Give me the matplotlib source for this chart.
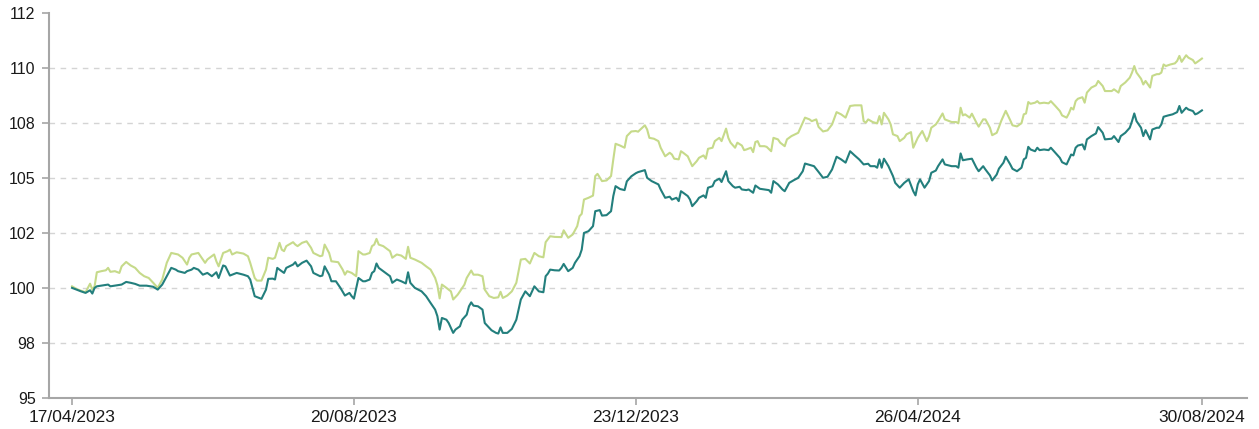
import matplotlib
matplotlib.use("Agg")
import matplotlib.pyplot as plt
import pandas as pd

start_date = "2023-04-17"

teal_days = [0, 2, 4, 6, 8, 9, 10, 11, 13, 16, 17, 19, 22, 24, 26, 28, 30, 33, 36, 38,
             40, 42, 44, 46, 47, 50, 51, 53, 54, 56, 58, 60, 62, 64, 65, 67, 68, 70, 71, 73,
             76, 78, 79, 81, 83, 84, 86, 87, 89, 90, 91, 92, 94, 95, 98, 99, 100, 102, 104, 106,
             107, 110, 111, 112, 114, 115, 117, 119, 121, 123, 124, 125, 127, 129, 130, 132, 133, 134, 135, 136,
             138, 141, 142, 144, 146, 148, 149, 150, 152, 155, 157, 159, 161, 162, 163, 164, 166, 167, 169, 170,
             172, 173, 175, 176, 177, 178, 180, 182, 183, 186, 188, 189, 190, 191, 193, 195, 197, 199, 201, 203,
             205, 207, 209, 210, 211, 212, 214, 216, 217, 218, 220, 222, 223, 225, 226, 227, 229, 231, 232, 234,
             235, 237, 239, 240, 241, 243, 245, 246, 248, 250, 251, 254, 255, 257, 260, 261, 263, 265, 266, 268,
             269, 270, 271, 273, 274, 275, 277, 278, 280, 281, 282, 284, 285, 287, 288, 290, 291, 293, 294, 296,
             297, 299, 300, 302, 303, 305, 307, 309, 310, 311, 313, 315, 316, 318, 320, 322, 324, 325, 328, 329,
             331, 333, 335, 337, 339, 341, 343, 345, 347, 349, 351, 353, 354, 356, 357, 358, 359, 360, 362, 364,
             365, 367, 369, 371, 373, 374, 375, 376, 378, 380, 381, 383, 384, 386, 387, 390, 392, 393, 394, 395,
             397, 399, 401, 402, 404, 405, 407, 408, 410, 411, 413, 414, 416, 417, 419, 421, 422, 423, 424, 425,
             427, 428, 429, 431, 433, 434, 436, 438, 439, 441, 442, 443, 444, 445, 446, 448, 449, 450, 452, 454,
             455, 457, 458, 461, 462, 464, 465, 467, 469, 470, 471, 472, 474, 475, 476, 478, 479, 481, 482, 483,
             484, 486, 488, 490, 491, 492, 494, 495, 497, 498, 499, 501]
teal_values = [100.0, 99.92, 99.84, 99.77, 99.89, 99.74, 100.0, 100.07, 100.10, 100.15, 100.07, 100.10, 100.15, 100.27, 100.23, 100.18, 100.10, 100.10, 100.05, 99.92,
               100.15, 100.53, 100.91, 100.83, 100.76, 100.68, 100.76, 100.83, 100.91, 100.83, 100.60, 100.68, 100.53, 100.71, 100.45, 101.02, 100.98, 100.56, 100.60, 100.68,
               100.60, 100.53, 100.38, 99.62, 99.54, 99.50, 99.92, 100.41, 100.42, 100.38, 100.91, 100.83, 100.68, 100.91, 101.06, 101.17, 100.98, 101.14, 101.24, 100.98,
               100.68, 100.53, 100.56, 100.98, 100.60, 100.30, 100.30, 100.0, 99.65, 99.77, 99.62, 99.51, 100.45, 100.30, 100.30, 100.38, 100.68, 100.76, 101.11, 100.91,
               100.76, 100.53, 100.23, 100.38, 100.30, 100.20, 100.71, 100.23, 100.0, 99.84, 99.62, 99.31, 99.01, 98.71, 98.10, 98.63, 98.55, 98.40, 97.95, 98.10,
               98.25, 98.55, 98.78, 99.16, 99.34, 99.19, 99.16, 99.01, 98.40, 98.07, 97.95, 97.92, 98.20, 97.95, 97.95, 98.13, 98.55, 99.47, 99.84, 99.62,
               100.07, 99.84, 99.80, 100.53, 100.65, 100.83, 100.80, 100.79, 100.91, 101.09, 100.76, 100.91, 101.14, 101.44, 101.74, 102.50, 102.58, 102.81, 103.49, 103.54,
               103.29, 103.31, 103.49, 104.18, 104.63, 104.50, 104.45, 104.85, 105.08, 105.22, 105.27, 105.36, 105.01, 104.86, 104.71, 104.48, 104.10, 104.15, 104.02, 104.10,
               103.95, 104.40, 104.33, 104.18, 104.02, 103.72, 103.95, 104.10, 104.21, 104.10, 104.56, 104.63, 104.86, 104.97, 104.82, 105.31, 104.86, 104.63, 104.56, 104.60,
               104.48, 104.45, 104.48, 104.33, 104.66, 104.51, 104.48, 104.45, 104.33, 104.86, 104.71, 104.48, 104.40, 104.78, 104.90, 105.01, 105.31, 105.66, 105.57, 105.54,
               105.28, 105.01, 105.06, 105.39, 105.97, 105.85, 105.70, 106.22, 106.03, 105.85, 105.62, 105.65, 105.54, 105.54, 105.47, 105.85, 105.47, 105.88, 105.54, 105.09,
               104.78, 104.56, 104.78, 104.94, 104.40, 104.21, 104.71, 104.94, 104.56, 104.86, 105.24, 105.34, 105.54, 105.85, 105.62, 105.54, 105.54, 105.47, 106.12, 105.81,
               105.85, 105.88, 105.47, 105.31, 105.54, 105.39, 105.12, 104.89, 105.16, 105.43, 105.70, 105.97, 105.62, 105.42, 105.31, 105.47, 105.85, 105.92, 106.42, 106.30,
               106.22, 106.38, 106.27, 106.30, 106.27, 106.38, 106.15, 105.92, 105.72, 105.62, 105.85, 106.07, 106.03, 106.38, 106.48, 106.53, 106.30, 106.76, 106.91, 107.03,
               107.32, 107.06, 106.76, 106.79, 106.91, 106.64, 106.91, 107.06, 107.29, 107.59, 107.94, 107.59, 107.29, 106.91, 107.18, 106.76, 107.21, 107.29, 107.29, 107.44,
               107.79, 107.85, 107.90, 108.0, 108.28, 107.97, 108.20, 108.12, 108.05, 107.90, 107.94, 108.08]

light_days = [0, 2, 4, 6, 8, 9, 10, 11, 13, 15, 16, 17, 19, 21, 22, 24, 26, 28, 30, 32,
              34, 36, 38, 40, 42, 44, 47, 49, 51, 52, 53, 56, 57, 59, 60, 61, 63, 64, 65, 67,
              69, 70, 71, 73, 76, 78, 79, 81, 82, 84, 86, 87, 89, 90, 92, 93, 94, 95, 98, 99,
              100, 102, 104, 106, 107, 110, 111, 112, 114, 115, 118, 120, 121, 122, 124, 126, 127, 129, 130, 132,
              133, 134, 135, 136, 138, 141, 142, 144, 146, 148, 149, 150, 152, 155, 157, 159, 161, 162, 163, 164,
              166, 168, 169, 171, 172, 174, 175, 177, 178, 180, 182, 183, 185, 187, 189, 190, 191, 193, 195, 197,
              199, 201, 203, 205, 207, 209, 210, 212, 214, 217, 218, 220, 222, 224, 225, 226, 227, 229, 231, 232,
              233, 235, 237, 239, 240, 241, 243, 245, 246, 248, 250, 251, 252, 254, 255, 256, 258, 260, 261, 263,
              265, 266, 267, 269, 270, 271, 273, 274, 275, 277, 278, 280, 281, 282, 284, 285, 287, 288, 290, 291,
              292, 294, 295, 297, 298, 299, 301, 302, 303, 304, 305, 307, 308, 310, 311, 313, 314, 316, 317, 319,
              322, 323, 325, 327, 328, 330, 331, 333, 335, 337, 339, 341, 343, 345, 347, 350, 351, 352, 353, 355,
              357, 358, 359, 360, 362, 363, 364, 366, 367, 369, 370, 372, 373, 375, 376, 377, 379, 380, 381, 383,
              384, 386, 387, 390, 392, 393, 394, 395, 396, 398, 399, 401, 402, 404, 405, 407, 408, 410, 411, 412,
              414, 416, 417, 419, 421, 422, 423, 424, 425, 427, 428, 429, 431, 433, 434, 436, 438, 439, 441, 442,
              443, 444, 445, 446, 448, 449, 450, 452, 454, 455, 457, 458, 461, 462, 464, 465, 467, 469, 470, 471,
              472, 474, 475, 476, 478, 479, 481, 482, 483, 484, 485, 487, 489, 490, 491, 492, 494, 495, 497, 498,
              499, 501]
light_values = [100.07, 99.95, 99.87, 99.80, 100.19, 99.92, 100.07, 100.71, 100.76, 100.80, 100.91, 100.73, 100.76, 100.68, 100.98, 101.18, 101.02, 100.91, 100.68, 100.53,
                100.45, 100.23, 100.0, 100.38, 101.14, 101.59, 101.52, 101.37, 101.06, 101.37, 101.52, 101.59, 101.44, 101.14, 101.29, 101.37, 101.52, 101.21, 100.98, 101.59,
                101.67, 101.74, 101.52, 101.62, 101.56, 101.44, 101.14, 100.45, 100.33, 100.33, 100.83, 101.37, 101.32, 101.37, 102.05, 101.74, 101.67, 101.90, 102.08, 101.97,
                101.90, 102.05, 102.12, 101.82, 101.59, 101.44, 101.47, 101.97, 101.59, 101.21, 101.17, 100.83, 100.60, 100.76, 100.68, 100.53, 101.67, 101.52, 101.52, 101.59,
                101.90, 101.97, 102.23, 101.97, 101.90, 101.67, 101.37, 101.52, 101.47, 101.32, 101.87, 101.37, 101.29, 101.14, 100.98, 100.83, 100.45, 100.12, 99.52, 100.15,
                100.0, 99.84, 99.47, 99.69, 99.84, 100.15, 100.45, 100.79, 100.60, 100.60, 100.53, 99.92, 99.62, 99.54, 99.57, 99.82, 99.54, 99.65, 99.84, 100.23,
                101.29, 101.32, 101.11, 101.59, 101.44, 101.39, 102.08, 102.35, 102.32, 102.31, 102.62, 102.28, 102.43, 102.81, 103.26, 103.37, 104.02, 104.10, 104.20, 105.09,
                105.19, 104.86, 104.89, 105.09, 105.85, 106.56, 106.48, 106.38, 106.91, 107.12, 107.14, 107.11, 107.21, 107.40, 107.21, 106.83, 106.79, 106.68, 106.38, 105.99,
                106.15, 106.07, 105.88, 105.85, 106.22, 106.15, 105.99, 105.77, 105.54, 105.77, 105.92, 106.03, 105.88, 106.33, 106.38, 106.68, 106.83, 106.68, 107.25, 106.83,
                106.61, 106.38, 106.61, 106.48, 106.27, 106.30, 106.38, 106.18, 106.64, 106.68, 106.45, 106.45, 106.42, 106.22, 106.83, 106.76, 106.61, 106.45, 106.76, 106.91,
                107.06, 107.29, 107.75, 107.67, 107.59, 107.67, 107.33, 107.12, 107.17, 107.44, 108.0, 107.90, 107.75, 108.28, 108.31, 108.31, 107.59, 107.52, 107.67, 107.55,
                107.49, 107.82, 107.44, 107.97, 107.67, 107.44, 106.99, 106.91, 106.68, 106.83, 106.99, 107.09, 106.38, 106.83, 106.99, 107.14, 106.68, 106.91, 107.29, 107.44,
                107.59, 107.94, 107.67, 107.55, 107.55, 107.49, 108.20, 107.85, 107.90, 107.75, 107.93, 107.52, 107.34, 107.67, 107.67, 107.29, 106.95, 107.06, 107.32, 107.60,
                108.06, 107.63, 107.40, 107.35, 107.50, 107.90, 107.94, 108.46, 108.38, 108.43, 108.50, 108.40, 108.43, 108.40, 108.50, 108.28, 108.05, 107.85, 107.75, 107.94,
                108.20, 108.12, 108.50, 108.61, 108.68, 108.43, 108.89, 109.12, 109.22, 109.42, 109.19, 108.96, 108.96, 109.04, 108.89, 109.19, 109.35, 109.57, 109.80, 110.10,
                109.80, 109.52, 109.26, 109.42, 109.12, 109.65, 109.73, 109.73, 109.80, 110.17, 110.10, 110.17, 110.22, 110.33, 110.56, 110.29, 110.59, 110.48, 110.37, 110.22,
                110.29, 110.44]

x_tick_dates = ["2023-04-17", "2023-08-20", "2023-12-23", "2024-04-26", "2024-08-30"]
x_tick_labels = ["17/04/2023", "20/08/2023", "23/12/2023", "26/04/2024", "30/08/2024"]
y_ticks = [95, 97.5, 100, 102.5, 105, 107.5, 110, 112.5]
y_tick_labels = ["95", "98", "100", "102", "105", "108", "110", "112"]

plt.rcParams["font.family"] = ["Liberation Sans", "DejaVu Sans"]

t0 = pd.Timestamp(start_date)
teal_dates = t0 + pd.to_timedelta(teal_days, unit="D")
light_dates = t0 + pd.to_timedelta(light_days, unit="D")

fig = plt.figure(figsize=(12.59, 4.29), dpi=100)
ax = fig.add_axes([0.0393, 0.073, 0.9512, 0.896])

ax.plot(light_dates, light_values, color="#c6da8a", lw=1.5, zorder=3)
ax.plot(teal_dates, teal_values, color="#237f7d", lw=1.5, zorder=4)

ax.set_ylim(95, 112.5)
ax.set_yticks(y_ticks)
ax.set_yticklabels(y_tick_labels)
ax.set_xlim(t0 - pd.Timedelta(days=10), t0 + pd.Timedelta(days=521))
ax.set_xticks(pd.to_datetime(x_tick_dates))
ax.set_xticklabels(x_tick_labels)

for v in y_ticks[1:-1]:
    ax.axhline(v, color="#d4d4d4", lw=1.0, ls=(0, (4, 4)), zorder=1)

for s in ["top", "right"]:
    ax.spines[s].set_visible(False)
for s in ["left", "bottom"]:
    ax.spines[s].set_color("#a6a6a6")
    ax.spines[s].set_linewidth(1.5)

ax.tick_params(axis="both", colors="#a6a6a6", length=5, width=1.2, labelcolor="#1a1a1a")
ax.tick_params(axis="y", pad=5, labelsize=11.5)
ax.tick_params(axis="x", pad=4, labelsize=12.5)

fig.savefig("out.png", dpi=100)
